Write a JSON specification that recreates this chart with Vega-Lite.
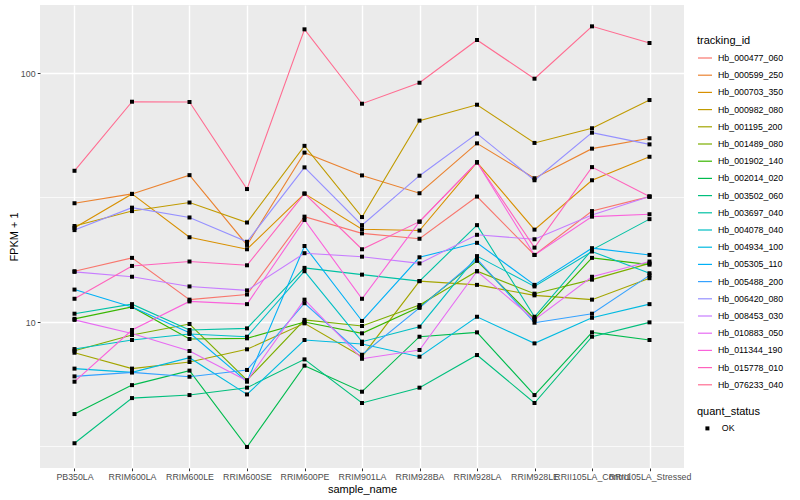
{
"$schema": "https://vega.github.io/schema/vega-lite/v6.json",
"width": 644, "height": 463,
"autosize": {"type": "none"},
"padding": {"left": 40, "top": 5, "right": 116, "bottom": 32},
"background": "white",
"config": {"view": {"fill": "#EBEBEB", "stroke": null}, "font": "Liberation Sans"},
"datasets": {"expr": [
{"tracking_id":"Hb_000477_060","sample_name":"PB350LA","fpkm_plus_1":16.0,"quant_status":"OK"},
{"tracking_id":"Hb_000477_060","sample_name":"RRIM600LA","fpkm_plus_1":18.1,"quant_status":"OK"},
{"tracking_id":"Hb_000477_060","sample_name":"RRIM600LE","fpkm_plus_1":12.3,"quant_status":"OK"},
{"tracking_id":"Hb_000477_060","sample_name":"RRIM600SE","fpkm_plus_1":12.9,"quant_status":"OK"},
{"tracking_id":"Hb_000477_060","sample_name":"RRIM600PE","fpkm_plus_1":26.5,"quant_status":"OK"},
{"tracking_id":"Hb_000477_060","sample_name":"RRIM901LA","fpkm_plus_1":22.7,"quant_status":"OK"},
{"tracking_id":"Hb_000477_060","sample_name":"RRIM928BA","fpkm_plus_1":21.6,"quant_status":"OK"},
{"tracking_id":"Hb_000477_060","sample_name":"RRIM928LA","fpkm_plus_1":31.9,"quant_status":"OK"},
{"tracking_id":"Hb_000477_060","sample_name":"RRIM928LE","fpkm_plus_1":18.6,"quant_status":"OK"},
{"tracking_id":"Hb_000477_060","sample_name":"RRII105LA_Control","fpkm_plus_1":27.9,"quant_status":"OK"},
{"tracking_id":"Hb_000477_060","sample_name":"RRII105LA_Stressed","fpkm_plus_1":31.9,"quant_status":"OK"},
{"tracking_id":"Hb_000599_250","sample_name":"PB350LA","fpkm_plus_1":30.0,"quant_status":"OK"},
{"tracking_id":"Hb_000599_250","sample_name":"RRIM600LA","fpkm_plus_1":32.7,"quant_status":"OK"},
{"tracking_id":"Hb_000599_250","sample_name":"RRIM600LE","fpkm_plus_1":38.9,"quant_status":"OK"},
{"tracking_id":"Hb_000599_250","sample_name":"RRIM600SE","fpkm_plus_1":20.4,"quant_status":"OK"},
{"tracking_id":"Hb_000599_250","sample_name":"RRIM600PE","fpkm_plus_1":47.9,"quant_status":"OK"},
{"tracking_id":"Hb_000599_250","sample_name":"RRIM901LA","fpkm_plus_1":38.8,"quant_status":"OK"},
{"tracking_id":"Hb_000599_250","sample_name":"RRIM928BA","fpkm_plus_1":32.9,"quant_status":"OK"},
{"tracking_id":"Hb_000599_250","sample_name":"RRIM928LA","fpkm_plus_1":52.2,"quant_status":"OK"},
{"tracking_id":"Hb_000599_250","sample_name":"RRIM928LE","fpkm_plus_1":37.8,"quant_status":"OK"},
{"tracking_id":"Hb_000599_250","sample_name":"RRII105LA_Control","fpkm_plus_1":49.7,"quant_status":"OK"},
{"tracking_id":"Hb_000599_250","sample_name":"RRII105LA_Stressed","fpkm_plus_1":54.7,"quant_status":"OK"},
{"tracking_id":"Hb_000703_350","sample_name":"PB350LA","fpkm_plus_1":23.9,"quant_status":"OK"},
{"tracking_id":"Hb_000703_350","sample_name":"RRIM600LA","fpkm_plus_1":32.7,"quant_status":"OK"},
{"tracking_id":"Hb_000703_350","sample_name":"RRIM600LE","fpkm_plus_1":21.9,"quant_status":"OK"},
{"tracking_id":"Hb_000703_350","sample_name":"RRIM600SE","fpkm_plus_1":19.6,"quant_status":"OK"},
{"tracking_id":"Hb_000703_350","sample_name":"RRIM600PE","fpkm_plus_1":32.8,"quant_status":"OK"},
{"tracking_id":"Hb_000703_350","sample_name":"RRIM901LA","fpkm_plus_1":23.6,"quant_status":"OK"},
{"tracking_id":"Hb_000703_350","sample_name":"RRIM928BA","fpkm_plus_1":23.3,"quant_status":"OK"},
{"tracking_id":"Hb_000703_350","sample_name":"RRIM928LA","fpkm_plus_1":43.8,"quant_status":"OK"},
{"tracking_id":"Hb_000703_350","sample_name":"RRIM928LE","fpkm_plus_1":23.5,"quant_status":"OK"},
{"tracking_id":"Hb_000703_350","sample_name":"RRII105LA_Control","fpkm_plus_1":37.1,"quant_status":"OK"},
{"tracking_id":"Hb_000703_350","sample_name":"RRII105LA_Stressed","fpkm_plus_1":46.1,"quant_status":"OK"},
{"tracking_id":"Hb_000982_080","sample_name":"PB350LA","fpkm_plus_1":24.3,"quant_status":"OK"},
{"tracking_id":"Hb_000982_080","sample_name":"RRIM600LA","fpkm_plus_1":27.9,"quant_status":"OK"},
{"tracking_id":"Hb_000982_080","sample_name":"RRIM600LE","fpkm_plus_1":30.2,"quant_status":"OK"},
{"tracking_id":"Hb_000982_080","sample_name":"RRIM600SE","fpkm_plus_1":25.1,"quant_status":"OK"},
{"tracking_id":"Hb_000982_080","sample_name":"RRIM600PE","fpkm_plus_1":51.0,"quant_status":"OK"},
{"tracking_id":"Hb_000982_080","sample_name":"RRIM901LA","fpkm_plus_1":26.4,"quant_status":"OK"},
{"tracking_id":"Hb_000982_080","sample_name":"RRIM928BA","fpkm_plus_1":64.4,"quant_status":"OK"},
{"tracking_id":"Hb_000982_080","sample_name":"RRIM928LA","fpkm_plus_1":74.6,"quant_status":"OK"},
{"tracking_id":"Hb_000982_080","sample_name":"RRIM928LE","fpkm_plus_1":52.4,"quant_status":"OK"},
{"tracking_id":"Hb_000982_080","sample_name":"RRII105LA_Control","fpkm_plus_1":60.0,"quant_status":"OK"},
{"tracking_id":"Hb_000982_080","sample_name":"RRII105LA_Stressed","fpkm_plus_1":77.9,"quant_status":"OK"},
{"tracking_id":"Hb_001195_200","sample_name":"PB350LA","fpkm_plus_1":7.53,"quant_status":"OK"},
{"tracking_id":"Hb_001195_200","sample_name":"RRIM600LA","fpkm_plus_1":6.50,"quant_status":"OK"},
{"tracking_id":"Hb_001195_200","sample_name":"RRIM600LE","fpkm_plus_1":6.91,"quant_status":"OK"},
{"tracking_id":"Hb_001195_200","sample_name":"RRIM600SE","fpkm_plus_1":7.77,"quant_status":"OK"},
{"tracking_id":"Hb_001195_200","sample_name":"RRIM600PE","fpkm_plus_1":9.88,"quant_status":"OK"},
{"tracking_id":"Hb_001195_200","sample_name":"RRIM901LA","fpkm_plus_1":7.26,"quant_status":"OK"},
{"tracking_id":"Hb_001195_200","sample_name":"RRIM928BA","fpkm_plus_1":14.6,"quant_status":"OK"},
{"tracking_id":"Hb_001195_200","sample_name":"RRIM928LA","fpkm_plus_1":14.1,"quant_status":"OK"},
{"tracking_id":"Hb_001195_200","sample_name":"RRIM928LE","fpkm_plus_1":12.8,"quant_status":"OK"},
{"tracking_id":"Hb_001195_200","sample_name":"RRII105LA_Control","fpkm_plus_1":12.3,"quant_status":"OK"},
{"tracking_id":"Hb_001195_200","sample_name":"RRII105LA_Stressed","fpkm_plus_1":15.0,"quant_status":"OK"},
{"tracking_id":"Hb_001489_080","sample_name":"PB350LA","fpkm_plus_1":7.67,"quant_status":"OK"},
{"tracking_id":"Hb_001489_080","sample_name":"RRIM600LA","fpkm_plus_1":8.87,"quant_status":"OK"},
{"tracking_id":"Hb_001489_080","sample_name":"RRIM600LE","fpkm_plus_1":9.82,"quant_status":"OK"},
{"tracking_id":"Hb_001489_080","sample_name":"RRIM600SE","fpkm_plus_1":5.84,"quant_status":"OK"},
{"tracking_id":"Hb_001489_080","sample_name":"RRIM600PE","fpkm_plus_1":10.2,"quant_status":"OK"},
{"tracking_id":"Hb_001489_080","sample_name":"RRIM901LA","fpkm_plus_1":9.64,"quant_status":"OK"},
{"tracking_id":"Hb_001489_080","sample_name":"RRIM928BA","fpkm_plus_1":11.7,"quant_status":"OK"},
{"tracking_id":"Hb_001489_080","sample_name":"RRIM928LA","fpkm_plus_1":16.0,"quant_status":"OK"},
{"tracking_id":"Hb_001489_080","sample_name":"RRIM928LE","fpkm_plus_1":13.0,"quant_status":"OK"},
{"tracking_id":"Hb_001489_080","sample_name":"RRII105LA_Control","fpkm_plus_1":14.8,"quant_status":"OK"},
{"tracking_id":"Hb_001489_080","sample_name":"RRII105LA_Stressed","fpkm_plus_1":17.2,"quant_status":"OK"},
{"tracking_id":"Hb_001902_140","sample_name":"PB350LA","fpkm_plus_1":10.3,"quant_status":"OK"},
{"tracking_id":"Hb_001902_140","sample_name":"RRIM600LA","fpkm_plus_1":11.5,"quant_status":"OK"},
{"tracking_id":"Hb_001902_140","sample_name":"RRIM600LE","fpkm_plus_1":8.55,"quant_status":"OK"},
{"tracking_id":"Hb_001902_140","sample_name":"RRIM600SE","fpkm_plus_1":8.60,"quant_status":"OK"},
{"tracking_id":"Hb_001902_140","sample_name":"RRIM600PE","fpkm_plus_1":10.0,"quant_status":"OK"},
{"tracking_id":"Hb_001902_140","sample_name":"RRIM901LA","fpkm_plus_1":9.01,"quant_status":"OK"},
{"tracking_id":"Hb_001902_140","sample_name":"RRIM928BA","fpkm_plus_1":11.5,"quant_status":"OK"},
{"tracking_id":"Hb_001902_140","sample_name":"RRIM928LA","fpkm_plus_1":17.6,"quant_status":"OK"},
{"tracking_id":"Hb_001902_140","sample_name":"RRIM928LE","fpkm_plus_1":10.3,"quant_status":"OK"},
{"tracking_id":"Hb_001902_140","sample_name":"RRII105LA_Control","fpkm_plus_1":18.1,"quant_status":"OK"},
{"tracking_id":"Hb_001902_140","sample_name":"RRII105LA_Stressed","fpkm_plus_1":17.0,"quant_status":"OK"},
{"tracking_id":"Hb_002014_020","sample_name":"PB350LA","fpkm_plus_1":4.27,"quant_status":"OK"},
{"tracking_id":"Hb_002014_020","sample_name":"RRIM600LA","fpkm_plus_1":5.58,"quant_status":"OK"},
{"tracking_id":"Hb_002014_020","sample_name":"RRIM600LE","fpkm_plus_1":6.38,"quant_status":"OK"},
{"tracking_id":"Hb_002014_020","sample_name":"RRIM600SE","fpkm_plus_1":3.15,"quant_status":"OK"},
{"tracking_id":"Hb_002014_020","sample_name":"RRIM600PE","fpkm_plus_1":6.68,"quant_status":"OK"},
{"tracking_id":"Hb_002014_020","sample_name":"RRIM901LA","fpkm_plus_1":5.25,"quant_status":"OK"},
{"tracking_id":"Hb_002014_020","sample_name":"RRIM928BA","fpkm_plus_1":8.73,"quant_status":"OK"},
{"tracking_id":"Hb_002014_020","sample_name":"RRIM928LA","fpkm_plus_1":9.09,"quant_status":"OK"},
{"tracking_id":"Hb_002014_020","sample_name":"RRIM928LE","fpkm_plus_1":5.09,"quant_status":"OK"},
{"tracking_id":"Hb_002014_020","sample_name":"RRII105LA_Control","fpkm_plus_1":9.09,"quant_status":"OK"},
{"tracking_id":"Hb_002014_020","sample_name":"RRII105LA_Stressed","fpkm_plus_1":8.47,"quant_status":"OK"},
{"tracking_id":"Hb_003502_060","sample_name":"PB350LA","fpkm_plus_1":3.26,"quant_status":"OK"},
{"tracking_id":"Hb_003502_060","sample_name":"RRIM600LA","fpkm_plus_1":4.95,"quant_status":"OK"},
{"tracking_id":"Hb_003502_060","sample_name":"RRIM600LE","fpkm_plus_1":5.09,"quant_status":"OK"},
{"tracking_id":"Hb_003502_060","sample_name":"RRIM600SE","fpkm_plus_1":5.45,"quant_status":"OK"},
{"tracking_id":"Hb_003502_060","sample_name":"RRIM600PE","fpkm_plus_1":7.08,"quant_status":"OK"},
{"tracking_id":"Hb_003502_060","sample_name":"RRIM901LA","fpkm_plus_1":4.73,"quant_status":"OK"},
{"tracking_id":"Hb_003502_060","sample_name":"RRIM928BA","fpkm_plus_1":5.45,"quant_status":"OK"},
{"tracking_id":"Hb_003502_060","sample_name":"RRIM928LA","fpkm_plus_1":7.37,"quant_status":"OK"},
{"tracking_id":"Hb_003502_060","sample_name":"RRIM928LE","fpkm_plus_1":4.73,"quant_status":"OK"},
{"tracking_id":"Hb_003502_060","sample_name":"RRII105LA_Control","fpkm_plus_1":8.73,"quant_status":"OK"},
{"tracking_id":"Hb_003502_060","sample_name":"RRII105LA_Stressed","fpkm_plus_1":9.97,"quant_status":"OK"},
{"tracking_id":"Hb_003697_040","sample_name":"PB350LA","fpkm_plus_1":10.8,"quant_status":"OK"},
{"tracking_id":"Hb_003697_040","sample_name":"RRIM600LA","fpkm_plus_1":11.8,"quant_status":"OK"},
{"tracking_id":"Hb_003697_040","sample_name":"RRIM600LE","fpkm_plus_1":9.29,"quant_status":"OK"},
{"tracking_id":"Hb_003697_040","sample_name":"RRIM600SE","fpkm_plus_1":9.43,"quant_status":"OK"},
{"tracking_id":"Hb_003697_040","sample_name":"RRIM600PE","fpkm_plus_1":16.5,"quant_status":"OK"},
{"tracking_id":"Hb_003697_040","sample_name":"RRIM901LA","fpkm_plus_1":15.5,"quant_status":"OK"},
{"tracking_id":"Hb_003697_040","sample_name":"RRIM928BA","fpkm_plus_1":14.6,"quant_status":"OK"},
{"tracking_id":"Hb_003697_040","sample_name":"RRIM928LA","fpkm_plus_1":24.5,"quant_status":"OK"},
{"tracking_id":"Hb_003697_040","sample_name":"RRIM928LE","fpkm_plus_1":10.5,"quant_status":"OK"},
{"tracking_id":"Hb_003697_040","sample_name":"RRII105LA_Control","fpkm_plus_1":19.5,"quant_status":"OK"},
{"tracking_id":"Hb_003697_040","sample_name":"RRII105LA_Stressed","fpkm_plus_1":25.9,"quant_status":"OK"},
{"tracking_id":"Hb_004078_040","sample_name":"PB350LA","fpkm_plus_1":7.79,"quant_status":"OK"},
{"tracking_id":"Hb_004078_040","sample_name":"RRIM600LA","fpkm_plus_1":8.47,"quant_status":"OK"},
{"tracking_id":"Hb_004078_040","sample_name":"RRIM600LE","fpkm_plus_1":8.95,"quant_status":"OK"},
{"tracking_id":"Hb_004078_040","sample_name":"RRIM600SE","fpkm_plus_1":8.73,"quant_status":"OK"},
{"tracking_id":"Hb_004078_040","sample_name":"RRIM600PE","fpkm_plus_1":16.0,"quant_status":"OK"},
{"tracking_id":"Hb_004078_040","sample_name":"RRIM901LA","fpkm_plus_1":8.34,"quant_status":"OK"},
{"tracking_id":"Hb_004078_040","sample_name":"RRIM928BA","fpkm_plus_1":9.58,"quant_status":"OK"},
{"tracking_id":"Hb_004078_040","sample_name":"RRIM928LA","fpkm_plus_1":18.4,"quant_status":"OK"},
{"tracking_id":"Hb_004078_040","sample_name":"RRIM928LE","fpkm_plus_1":13.9,"quant_status":"OK"},
{"tracking_id":"Hb_004078_040","sample_name":"RRII105LA_Control","fpkm_plus_1":19.2,"quant_status":"OK"},
{"tracking_id":"Hb_004078_040","sample_name":"RRII105LA_Stressed","fpkm_plus_1":15.7,"quant_status":"OK"},
{"tracking_id":"Hb_004934_100","sample_name":"PB350LA","fpkm_plus_1":6.50,"quant_status":"OK"},
{"tracking_id":"Hb_004934_100","sample_name":"RRIM600LA","fpkm_plus_1":6.28,"quant_status":"OK"},
{"tracking_id":"Hb_004934_100","sample_name":"RRIM600LE","fpkm_plus_1":7.19,"quant_status":"OK"},
{"tracking_id":"Hb_004934_100","sample_name":"RRIM600SE","fpkm_plus_1":5.12,"quant_status":"OK"},
{"tracking_id":"Hb_004934_100","sample_name":"RRIM600PE","fpkm_plus_1":8.47,"quant_status":"OK"},
{"tracking_id":"Hb_004934_100","sample_name":"RRIM901LA","fpkm_plus_1":8.16,"quant_status":"OK"},
{"tracking_id":"Hb_004934_100","sample_name":"RRIM928BA","fpkm_plus_1":7.26,"quant_status":"OK"},
{"tracking_id":"Hb_004934_100","sample_name":"RRIM928LA","fpkm_plus_1":10.5,"quant_status":"OK"},
{"tracking_id":"Hb_004934_100","sample_name":"RRIM928LE","fpkm_plus_1":8.21,"quant_status":"OK"},
{"tracking_id":"Hb_004934_100","sample_name":"RRII105LA_Control","fpkm_plus_1":10.4,"quant_status":"OK"},
{"tracking_id":"Hb_004934_100","sample_name":"RRII105LA_Stressed","fpkm_plus_1":11.8,"quant_status":"OK"},
{"tracking_id":"Hb_005305_110","sample_name":"PB350LA","fpkm_plus_1":13.5,"quant_status":"OK"},
{"tracking_id":"Hb_005305_110","sample_name":"RRIM600LA","fpkm_plus_1":11.5,"quant_status":"OK"},
{"tracking_id":"Hb_005305_110","sample_name":"RRIM600LE","fpkm_plus_1":9.06,"quant_status":"OK"},
{"tracking_id":"Hb_005305_110","sample_name":"RRIM600SE","fpkm_plus_1":5.76,"quant_status":"OK"},
{"tracking_id":"Hb_005305_110","sample_name":"RRIM600PE","fpkm_plus_1":20.2,"quant_status":"OK"},
{"tracking_id":"Hb_005305_110","sample_name":"RRIM901LA","fpkm_plus_1":10.1,"quant_status":"OK"},
{"tracking_id":"Hb_005305_110","sample_name":"RRIM928BA","fpkm_plus_1":18.2,"quant_status":"OK"},
{"tracking_id":"Hb_005305_110","sample_name":"RRIM928LA","fpkm_plus_1":20.8,"quant_status":"OK"},
{"tracking_id":"Hb_005305_110","sample_name":"RRIM928LE","fpkm_plus_1":14.1,"quant_status":"OK"},
{"tracking_id":"Hb_005305_110","sample_name":"RRII105LA_Control","fpkm_plus_1":19.8,"quant_status":"OK"},
{"tracking_id":"Hb_005305_110","sample_name":"RRII105LA_Stressed","fpkm_plus_1":18.6,"quant_status":"OK"},
{"tracking_id":"Hb_005488_200","sample_name":"PB350LA","fpkm_plus_1":6.05,"quant_status":"OK"},
{"tracking_id":"Hb_005488_200","sample_name":"RRIM600LA","fpkm_plus_1":6.28,"quant_status":"OK"},
{"tracking_id":"Hb_005488_200","sample_name":"RRIM600LE","fpkm_plus_1":6.03,"quant_status":"OK"},
{"tracking_id":"Hb_005488_200","sample_name":"RRIM600SE","fpkm_plus_1":6.42,"quant_status":"OK"},
{"tracking_id":"Hb_005488_200","sample_name":"RRIM600PE","fpkm_plus_1":11.9,"quant_status":"OK"},
{"tracking_id":"Hb_005488_200","sample_name":"RRIM901LA","fpkm_plus_1":7.39,"quant_status":"OK"},
{"tracking_id":"Hb_005488_200","sample_name":"RRIM928BA","fpkm_plus_1":11.4,"quant_status":"OK"},
{"tracking_id":"Hb_005488_200","sample_name":"RRIM928LA","fpkm_plus_1":17.9,"quant_status":"OK"},
{"tracking_id":"Hb_005488_200","sample_name":"RRIM928LE","fpkm_plus_1":9.94,"quant_status":"OK"},
{"tracking_id":"Hb_005488_200","sample_name":"RRII105LA_Control","fpkm_plus_1":10.8,"quant_status":"OK"},
{"tracking_id":"Hb_005488_200","sample_name":"RRII105LA_Stressed","fpkm_plus_1":15.4,"quant_status":"OK"},
{"tracking_id":"Hb_006420_080","sample_name":"PB350LA","fpkm_plus_1":23.4,"quant_status":"OK"},
{"tracking_id":"Hb_006420_080","sample_name":"RRIM600LA","fpkm_plus_1":28.8,"quant_status":"OK"},
{"tracking_id":"Hb_006420_080","sample_name":"RRIM600LE","fpkm_plus_1":26.3,"quant_status":"OK"},
{"tracking_id":"Hb_006420_080","sample_name":"RRIM600SE","fpkm_plus_1":21.0,"quant_status":"OK"},
{"tracking_id":"Hb_006420_080","sample_name":"RRIM600PE","fpkm_plus_1":41.8,"quant_status":"OK"},
{"tracking_id":"Hb_006420_080","sample_name":"RRIM901LA","fpkm_plus_1":24.5,"quant_status":"OK"},
{"tracking_id":"Hb_006420_080","sample_name":"RRIM928BA","fpkm_plus_1":38.7,"quant_status":"OK"},
{"tracking_id":"Hb_006420_080","sample_name":"RRIM928LA","fpkm_plus_1":57.1,"quant_status":"OK"},
{"tracking_id":"Hb_006420_080","sample_name":"RRIM928LE","fpkm_plus_1":37.1,"quant_status":"OK"},
{"tracking_id":"Hb_006420_080","sample_name":"RRII105LA_Control","fpkm_plus_1":57.6,"quant_status":"OK"},
{"tracking_id":"Hb_006420_080","sample_name":"RRII105LA_Stressed","fpkm_plus_1":51.7,"quant_status":"OK"},
{"tracking_id":"Hb_008453_030","sample_name":"PB350LA","fpkm_plus_1":15.9,"quant_status":"OK"},
{"tracking_id":"Hb_008453_030","sample_name":"RRIM600LA","fpkm_plus_1":15.2,"quant_status":"OK"},
{"tracking_id":"Hb_008453_030","sample_name":"RRIM600LE","fpkm_plus_1":13.9,"quant_status":"OK"},
{"tracking_id":"Hb_008453_030","sample_name":"RRIM600SE","fpkm_plus_1":13.4,"quant_status":"OK"},
{"tracking_id":"Hb_008453_030","sample_name":"RRIM600PE","fpkm_plus_1":18.9,"quant_status":"OK"},
{"tracking_id":"Hb_008453_030","sample_name":"RRIM901LA","fpkm_plus_1":18.3,"quant_status":"OK"},
{"tracking_id":"Hb_008453_030","sample_name":"RRIM928BA","fpkm_plus_1":17.2,"quant_status":"OK"},
{"tracking_id":"Hb_008453_030","sample_name":"RRIM928LA","fpkm_plus_1":22.4,"quant_status":"OK"},
{"tracking_id":"Hb_008453_030","sample_name":"RRIM928LE","fpkm_plus_1":21.5,"quant_status":"OK"},
{"tracking_id":"Hb_008453_030","sample_name":"RRII105LA_Control","fpkm_plus_1":26.9,"quant_status":"OK"},
{"tracking_id":"Hb_008453_030","sample_name":"RRII105LA_Stressed","fpkm_plus_1":31.9,"quant_status":"OK"},
{"tracking_id":"Hb_010883_050","sample_name":"PB350LA","fpkm_plus_1":10.2,"quant_status":"OK"},
{"tracking_id":"Hb_010883_050","sample_name":"RRIM600LA","fpkm_plus_1":9.0,"quant_status":"OK"},
{"tracking_id":"Hb_010883_050","sample_name":"RRIM600LE","fpkm_plus_1":7.65,"quant_status":"OK"},
{"tracking_id":"Hb_010883_050","sample_name":"RRIM600SE","fpkm_plus_1":5.81,"quant_status":"OK"},
{"tracking_id":"Hb_010883_050","sample_name":"RRIM600PE","fpkm_plus_1":12.3,"quant_status":"OK"},
{"tracking_id":"Hb_010883_050","sample_name":"RRIM901LA","fpkm_plus_1":7.12,"quant_status":"OK"},
{"tracking_id":"Hb_010883_050","sample_name":"RRIM928BA","fpkm_plus_1":7.72,"quant_status":"OK"},
{"tracking_id":"Hb_010883_050","sample_name":"RRIM928LA","fpkm_plus_1":16.0,"quant_status":"OK"},
{"tracking_id":"Hb_010883_050","sample_name":"RRIM928LE","fpkm_plus_1":10.2,"quant_status":"OK"},
{"tracking_id":"Hb_010883_050","sample_name":"RRII105LA_Control","fpkm_plus_1":15.2,"quant_status":"OK"},
{"tracking_id":"Hb_010883_050","sample_name":"RRII105LA_Stressed","fpkm_plus_1":17.5,"quant_status":"OK"},
{"tracking_id":"Hb_011344_190","sample_name":"PB350LA","fpkm_plus_1":5.76,"quant_status":"OK"},
{"tracking_id":"Hb_011344_190","sample_name":"RRIM600LA","fpkm_plus_1":9.29,"quant_status":"OK"},
{"tracking_id":"Hb_011344_190","sample_name":"RRIM600LE","fpkm_plus_1":12.1,"quant_status":"OK"},
{"tracking_id":"Hb_011344_190","sample_name":"RRIM600SE","fpkm_plus_1":11.8,"quant_status":"OK"},
{"tracking_id":"Hb_011344_190","sample_name":"RRIM600PE","fpkm_plus_1":25.7,"quant_status":"OK"},
{"tracking_id":"Hb_011344_190","sample_name":"RRIM901LA","fpkm_plus_1":12.4,"quant_status":"OK"},
{"tracking_id":"Hb_011344_190","sample_name":"RRIM928BA","fpkm_plus_1":25.3,"quant_status":"OK"},
{"tracking_id":"Hb_011344_190","sample_name":"RRIM928LA","fpkm_plus_1":43.8,"quant_status":"OK"},
{"tracking_id":"Hb_011344_190","sample_name":"RRIM928LE","fpkm_plus_1":18.6,"quant_status":"OK"},
{"tracking_id":"Hb_011344_190","sample_name":"RRII105LA_Control","fpkm_plus_1":26.5,"quant_status":"OK"},
{"tracking_id":"Hb_011344_190","sample_name":"RRII105LA_Stressed","fpkm_plus_1":27.1,"quant_status":"OK"},
{"tracking_id":"Hb_015778_010","sample_name":"PB350LA","fpkm_plus_1":12.4,"quant_status":"OK"},
{"tracking_id":"Hb_015778_010","sample_name":"RRIM600LA","fpkm_plus_1":16.8,"quant_status":"OK"},
{"tracking_id":"Hb_015778_010","sample_name":"RRIM600LE","fpkm_plus_1":17.5,"quant_status":"OK"},
{"tracking_id":"Hb_015778_010","sample_name":"RRIM600SE","fpkm_plus_1":16.9,"quant_status":"OK"},
{"tracking_id":"Hb_015778_010","sample_name":"RRIM600PE","fpkm_plus_1":32.8,"quant_status":"OK"},
{"tracking_id":"Hb_015778_010","sample_name":"RRIM901LA","fpkm_plus_1":19.6,"quant_status":"OK"},
{"tracking_id":"Hb_015778_010","sample_name":"RRIM928BA","fpkm_plus_1":25.3,"quant_status":"OK"},
{"tracking_id":"Hb_015778_010","sample_name":"RRIM928LA","fpkm_plus_1":43.8,"quant_status":"OK"},
{"tracking_id":"Hb_015778_010","sample_name":"RRIM928LE","fpkm_plus_1":19.9,"quant_status":"OK"},
{"tracking_id":"Hb_015778_010","sample_name":"RRII105LA_Control","fpkm_plus_1":41.9,"quant_status":"OK"},
{"tracking_id":"Hb_015778_010","sample_name":"RRII105LA_Stressed","fpkm_plus_1":31.9,"quant_status":"OK"},
{"tracking_id":"Hb_076233_040","sample_name":"PB350LA","fpkm_plus_1":40.5,"quant_status":"OK"},
{"tracking_id":"Hb_076233_040","sample_name":"RRIM600LA","fpkm_plus_1":76.7,"quant_status":"OK"},
{"tracking_id":"Hb_076233_040","sample_name":"RRIM600LE","fpkm_plus_1":76.5,"quant_status":"OK"},
{"tracking_id":"Hb_076233_040","sample_name":"RRIM600SE","fpkm_plus_1":34.2,"quant_status":"OK"},
{"tracking_id":"Hb_076233_040","sample_name":"RRIM600PE","fpkm_plus_1":149.8,"quant_status":"OK"},
{"tracking_id":"Hb_076233_040","sample_name":"RRIM901LA","fpkm_plus_1":75.3,"quant_status":"OK"},
{"tracking_id":"Hb_076233_040","sample_name":"RRIM928BA","fpkm_plus_1":91.4,"quant_status":"OK"},
{"tracking_id":"Hb_076233_040","sample_name":"RRIM928LA","fpkm_plus_1":135.7,"quant_status":"OK"},
{"tracking_id":"Hb_076233_040","sample_name":"RRIM928LE","fpkm_plus_1":94.9,"quant_status":"OK"},
{"tracking_id":"Hb_076233_040","sample_name":"RRII105LA_Control","fpkm_plus_1":154.0,"quant_status":"OK"},
{"tracking_id":"Hb_076233_040","sample_name":"RRII105LA_Stressed","fpkm_plus_1":132.0,"quant_status":"OK"}
],
"minor": [{"fpkm_plus_1": 3.1623}, {"fpkm_plus_1": 31.623}]},
"data": {"name": "expr"},
"encoding": {
  "y": {"field": "fpkm_plus_1", "type": "quantitative",
    "scale": {"type": "log", "domain": [2.593, 187.6], "nice": false, "zero": false},
    "axis": {"title": "FPKM + 1", "values": [10, 100], "format": "d", "grid": true, "gridColor": "white", "gridWidth": 1.4,
      "domain": false, "tickColor": "#333333", "tickSize": 2.75, "tickWidth": 1, "labelPadding": 2.2, "labelFontSize": 8.8, "labelColor": "#4D4D4D",
      "titleFontSize": 11, "titleFontWeight": "normal", "titleColor": "black", "titleAngle": 270, "titleBaseline": "alphabetic", "titleAlign": "center", "titleX": -22.5, "titleY": 231.5}}
},
"layer": [
  {"data": {"name": "minor"}, "mark": {"type": "rule", "color": "white", "strokeWidth": 0.7}, "encoding": {}},
  {"mark": {"type": "line", "strokeWidth": 1.1},
   "encoding": {
    "x": {"field": "sample_name", "type": "nominal",
      "sort": ["PB350LA","RRIM600LA","RRIM600LE","RRIM600SE","RRIM600PE","RRIM901LA","RRIM928BA","RRIM928LA","RRIM928LE","RRII105LA_Control","RRII105LA_Stressed"],
      "scale": {"type": "point", "padding": 0.6},
      "axis": {"title": "sample_name", "labelAngle": 0, "labelOverlap": false, "labelBound": false, "labelFlush": false, "labelFontSize": 8.8, "labelColor": "#4D4D4D",
        "tickColor": "#333333", "tickSize": 2.75, "labelPadding": 2.2, "domain": false, "grid": true, "gridColor": "white", "gridWidth": 1.4,
        "titleFontSize": 11, "titleFontWeight": "normal", "titleColor": "black", "titleX": 322, "titleY": 24, "titleBaseline": "alphabetic", "titleAlign": "center"}},
    "color": {"field": "tracking_id", "type": "nominal",
      "scale": {"domain": ["Hb_000477_060","Hb_000599_250","Hb_000703_350","Hb_000982_080","Hb_001195_200","Hb_001489_080","Hb_001902_140","Hb_002014_020","Hb_003502_060","Hb_003697_040","Hb_004078_040","Hb_004934_100","Hb_005305_110","Hb_005488_200","Hb_006420_080","Hb_008453_030","Hb_010883_050","Hb_011344_190","Hb_015778_010","Hb_076233_040"],
        "range": ["#F8766D","#EA8331","#D89000","#C09B00","#A3A500","#7CAE00","#39B600","#00BB4E","#00BF7D","#00C1A3","#00BFC4","#00BAE0","#00B0F6","#35A2FF","#9590FF","#C77CFF","#E76BF3","#FA62DB","#FF62BC","#FF6C91"]},
      "legend": {"title": "tracking_id", "orient": "none", "legendX": 657, "legendY": 30, "symbolType": "stroke", "symbolSize": 196, "symbolStrokeWidth": 1.2,
        "labelFontSize": 8.8, "labelColor": "black", "titleFontSize": 11, "titleFontWeight": "normal", "titleColor": "black", "titlePadding": 4,
        "rowPadding": 4.2, "labelOffset": 5, "padding": 0}},
    "order": {"value": null}
   }},
  {"mark": {"type": "point", "filled": true, "color": "black", "size": 16, "opacity": 1},
   "encoding": {
    "x": {"field": "sample_name", "type": "nominal",
      "sort": ["PB350LA","RRIM600LA","RRIM600LE","RRIM600SE","RRIM600PE","RRIM901LA","RRIM928BA","RRIM928LA","RRIM928LE","RRII105LA_Control","RRII105LA_Stressed"]},
    "shape": {"field": "quant_status", "type": "nominal", "scale": {"domain": ["OK"], "range": ["square"]},
      "legend": {"title": "quant_status", "orient": "none", "legendX": 657, "legendY": 401, "symbolSize": 16, "symbolFillColor": "black", "symbolStrokeColor": "black",
        "symbolOffset": 6, "labelFontSize": 8.8, "labelColor": "black", "titleFontSize": 11, "titleFontWeight": "normal", "titleColor": "black", "titlePadding": 7, "labelOffset": 10, "padding": 0}}
   }}
]
}
